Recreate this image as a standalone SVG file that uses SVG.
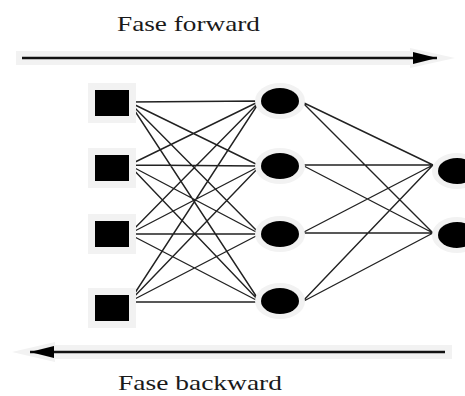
<svg xmlns="http://www.w3.org/2000/svg" width="465" height="396" viewBox="0 0 465 396">
  <style>
    .label { font-family: "Liberation Serif", "Times New Roman", serif; font-size: 21px; fill: #1a1a1a; }
    .halo { fill: #f2f2f2; }
    .node { fill: #000; }
    .edge { stroke: #222; stroke-width: 1.4; fill: none; }
    .shaft { stroke: #111; stroke-width: 2.6; }
    .shaft-halo { stroke: #f2f2f2; stroke-width: 14; }
  </style>
  <defs>
    <marker id="head" viewBox="0 0 24 12" refX="24" refY="6" markerWidth="24" markerHeight="12" markerUnits="userSpaceOnUse" orient="auto">
      <path d="M0,0 L24,6 L0,12 Z" fill="#000"/>
    </marker>
  </defs>

  <!-- direction arrows -->
  <g id="forward">
    <path d="M16,58 H410 L410,48 L455,58 L410,68 L410,58" class="halo"/>
    <line x1="16" y1="58" x2="416" y2="58" class="shaft-halo"/>
    <line x1="22" y1="58" x2="437" y2="58" class="shaft" marker-end="url(#head)"/>
    <text x="117" y="31" class="label" textLength="143" lengthAdjust="spacingAndGlyphs">Fase forward</text>
  </g>
  <g id="backward">
    <path d="M12,352 L55,342 L55,362 Z" class="halo"/>
    <line x1="50" y1="352" x2="452" y2="352" class="shaft-halo"/>
    <line x1="445" y1="352" x2="30" y2="352" class="shaft" marker-end="url(#head)"/>
    <text x="118" y="390" class="label" textLength="164" lengthAdjust="spacingAndGlyphs">Fase backward</text>
  </g>

  <!-- connections -->
  <g id="connectors">
    <!-- input to hidden -->
    <path class="edge" d="M129,102 L260,101 M129,102 L260,166 M129,102 L260,234 M129,102 L260,302
      M129,165 L260,101 M129,165 L260,166 M129,165 L260,234 M129,165 L260,302
      M129,234 L260,101 M129,234 L260,166 M129,234 L260,234 M129,234 L260,302
      M129,302 L260,101 M129,302 L260,166 M129,302 L260,234 M129,302 L260,302"/>
    <!-- hidden to output -->
    <path class="edge" d="M302,102 L433,165 M302,102 L433,233
      M302,165 L433,165 M302,165 L433,233
      M302,233 L433,165 M302,233 L433,233
      M302,302 L433,165 M302,302 L433,233"/>
  </g>

  <!-- input layer -->
  <g id="in1"><rect x="88" y="83" width="48" height="40" class="halo"/><rect x="95" y="90" width="34" height="26" class="node"/></g>
  <g id="in2"><rect x="88" y="148" width="48" height="40" class="halo"/><rect x="95" y="155" width="34" height="26" class="node"/></g>
  <g id="in3"><rect x="88" y="214" width="48" height="40" class="halo"/><rect x="95" y="221" width="34" height="26" class="node"/></g>
  <g id="in4"><rect x="88" y="288" width="48" height="40" class="halo"/><rect x="95" y="295" width="34" height="26" class="node"/></g>

  <!-- hidden layer -->
  <g id="h1"><ellipse cx="280" cy="101" rx="25" ry="18" class="halo"/><ellipse cx="280" cy="101" rx="19" ry="13" class="node"/></g>
  <g id="h2"><ellipse cx="280" cy="166" rx="25" ry="18" class="halo"/><ellipse cx="280" cy="166" rx="19" ry="13" class="node"/></g>
  <g id="h3"><ellipse cx="280" cy="234" rx="25" ry="18" class="halo"/><ellipse cx="280" cy="234" rx="19" ry="13" class="node"/></g>
  <g id="h4"><ellipse cx="280" cy="301" rx="25" ry="18" class="halo"/><ellipse cx="280" cy="301" rx="19" ry="13" class="node"/></g>

  <!-- output layer -->
  <g id="o1"><ellipse cx="457" cy="171" rx="25" ry="18" class="halo"/><ellipse cx="457" cy="171" rx="19" ry="13" class="node"/></g>
  <g id="o2"><ellipse cx="457" cy="235" rx="25" ry="18" class="halo"/><ellipse cx="457" cy="235" rx="19" ry="13" class="node"/></g>
</svg>
